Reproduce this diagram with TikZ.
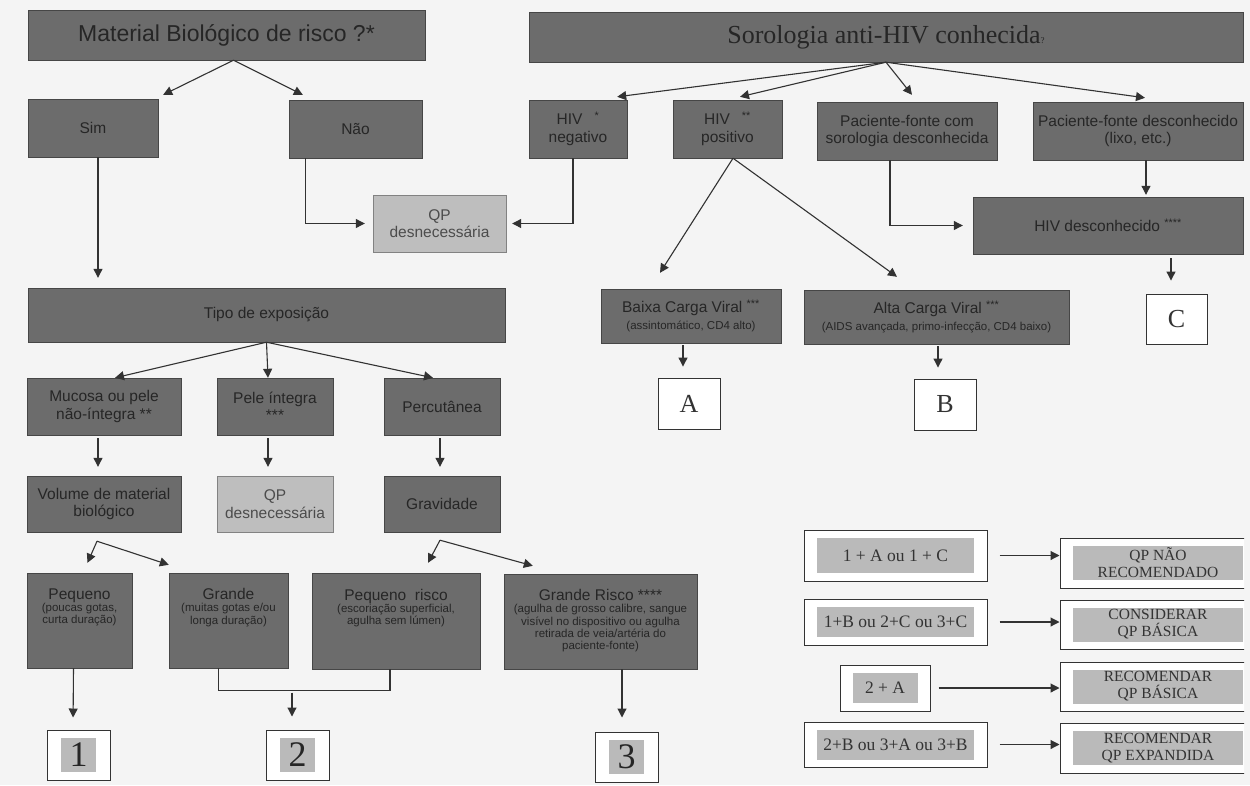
\documentclass[tikz,border=0pt]{standalone}
\usepackage{fontspec}
\setmainfont{Liberation Sans}
\newfontfamily\tnr{Liberation Serif}
\usetikzlibrary{arrows.meta,calc}
\definecolor{bgcol}{RGB}{244,244,244}
\definecolor{boxcol}{RGB}{108,108,108}
\definecolor{boxline}{RGB}{70,70,70}
\definecolor{boxtext}{RGB}{38,38,38}
\definecolor{lightcol}{RGB}{190,190,190}
\definecolor{lightline}{RGB}{130,130,130}
\definecolor{innercol}{RGB}{186,186,186}
\definecolor{linecol}{RGB}{50,50,50}
\def\fsz#1#2{\fontsize{#1}{#2}\selectfont}
\def\subtxt{\fsz{11.5}{12.2}}
\long\def\topbox#1#2{\parbox[c][80pt][t]{#1}{\centering\vspace*{8pt}#2}}
\long\def\greybox#1#2#3{{\setlength{\fboxsep}{0pt}\colorbox{innercol}{\parbox[c][#2][c]{#1}{\centering #3}}}}
\tikzset{
  darkbox/.style={draw=boxline, fill=boxcol, text=boxtext, inner sep=0pt, align=center, font=\fsz{15.5}{17.5}},
  lightbox/.style={darkbox, draw=lightline, fill=lightcol, text=black!70},
  letterbox/.style={draw=black!80, line width=0.9pt, fill=white, inner sep=0pt, text=black!80, font=\tnr\fsz{26}{28}},
  numbox/.style={draw=black!80, line width=1pt, fill=white, inner sep=0pt, text=black!85, font=\tnr\fsz{36}{40}},
  legleft/.style={draw=black!80, line width=1pt, fill=white, inner sep=0pt, text=black!80, font=\tnr\fsz{17.5}{20}},
  legright/.style={legleft, font=\tnr\fsz{15.5}{17}},
  arr/.style={draw=linecol, line width=1.1pt, -{Triangle[length=9pt,width=9pt]}},
  wire/.style={draw=linecol, line width=1.1pt}
}
\begin{document}
\begin{tikzpicture}[x=1pt,y=-1pt]
		%%%%% START %%%%%
		
		\fill[bgcol] (0,0) rectangle (1250,785);
		\useasboundingbox (0,0) rectangle (1250,785);
		\begin{scope}
		\clip (0,0) rectangle (1244,785);
		
		% left tree
		\node[darkbox, minimum width=397pt, minimum height=50pt, font=\fsz{23}{26}] (mat) at (226.5,35) {Material Biológico de risco ?*};
		\node[darkbox, minimum width=130pt, minimum height=58pt] (sim) at (93,128) {Sim};
		\node[darkbox, minimum width=133pt, minimum height=58pt] (nao) at (355.5,129) {Não};
		\node[lightbox, minimum width=133pt, minimum height=57pt] (qpa) at (439.5,223.5) {QP\\desnecessária};
		\node[darkbox, minimum width=477pt, minimum height=54pt] (tipo) at (266.5,315) {Tipo de exposição};
		\node[darkbox, minimum width=154pt, minimum height=57pt] (muc) at (104,406.5) {Mucosa ou pele\\não-íntegra **};
		\node[darkbox, minimum width=116pt, minimum height=57pt] (pele) at (275,406.5) {Pele íntegra\\***};
		\node[darkbox, minimum width=116pt, minimum height=57pt] (perc) at (442,406.5) {Percutânea};
		\node[darkbox, minimum width=154pt, minimum height=56pt] (vol) at (104,504) {Volume de material\\biológico};
		\node[lightbox, minimum width=116pt, minimum height=56pt] (qpb) at (275,504) {QP\\desnecessária};
		\node[darkbox, minimum width=116pt, minimum height=56pt] (grav) at (442,504) {Gravidade};
		
		\node[darkbox, minimum width=105pt, minimum height=95pt] (peq) at (79.5,620.5) {\topbox{100pt}{Pequeno\par\subtxt(poucas gotas,\\curta duração)}};
		\node[darkbox, minimum width=119pt, minimum height=95pt] (gra) at (228.5,620.5) {\topbox{114pt}{Grande\par\subtxt(muitas gotas e/ou\\longa duração)}};
		\node[darkbox, minimum width=168pt, minimum height=96pt] (peqr) at (396,621) {\topbox{162pt}{Pequeno\ \ risco\par\subtxt(escoriação superficial,\\agulha sem lúmen)}};
		\node[darkbox, minimum width=193pt, minimum height=95pt] (grar) at (600.5,621.5) {\topbox{190pt}{Grande Risco ****\par\subtxt(agulha de grosso calibre, sangue\\visível no dispositivo ou agulha\\retirada de veia/artéria do\\paciente-fonte)}};
		
		\node[numbox, minimum width=63pt, minimum height=50pt] (n1) at (78.5,755) {\greybox{35pt}{34pt}{1}};
		\node[numbox, minimum width=63pt, minimum height=50pt] (n2) at (297.5,755) {\greybox{35pt}{34pt}{2}};
		\node[numbox, minimum width=63pt, minimum height=50pt] (n3) at (626.5,757) {\greybox{35pt}{34pt}{3}};
		
		% right tree
		\node[darkbox, minimum width=714pt, minimum height=50pt, font=\tnr\fsz{26}{28}] (sor) at (886,37) {Sorologia anti-HIV conhecida{\fsz{9}{9}?}};
		\node[darkbox, minimum width=98pt, minimum height=58pt] (hneg) at (578,129) {HIV\hspace{12pt}\textsuperscript{*}\\negativo};
		\node[darkbox, minimum width=109pt, minimum height=58pt] (hpos) at (727.5,129) {HIV\hspace{12pt}\textsuperscript{**}\\positivo};
		\node[darkbox, minimum width=180pt, minimum height=58pt] (pcom) at (907,131) {Paciente-fonte com\\sorologia desconhecida};
		\node[darkbox, minimum width=210pt, minimum height=58pt] (pdes) at (1138,131) {Paciente-fonte desconhecido\\(lixo, etc.)};
		\node[darkbox, minimum width=270pt, minimum height=57pt] (hdes) at (1108,225.5) {HIV desconhecido \textsuperscript{****}};
		\node[darkbox, minimum width=180pt, minimum height=54pt] (baixa) at (691,316) {Baixa Carga Viral \textsuperscript{***}\\{\subtxt(assintomático, CD4 alto)}};
		\node[darkbox, minimum width=265pt, minimum height=54pt] (alta) at (936.5,317) {Alta Carga Viral \textsuperscript{***}\\{\subtxt(AIDS avançada, primo-infecção, CD4 baixo)}};
		\node[letterbox, minimum width=62pt, minimum height=51pt] (la) at (689,403.5) {A};
		\node[letterbox, minimum width=62pt, minimum height=51pt] (lb) at (945,404.5) {B};
		\node[letterbox, minimum width=61pt, minimum height=50pt] (lc) at (1176.5,319) {C};
		
		% legend
		\node[legleft, minimum width=183pt, minimum height=51pt] (l1) at (895.5,555.5) {\greybox{157pt}{35pt}{1 + A ou 1 + C}};
		\node[legleft, minimum width=183pt, minimum height=46pt] (l2) at (895.5,622) {\greybox{157pt}{30pt}{1+B ou 2+C ou 3+C}};
		\node[legleft, minimum width=90pt, minimum height=46pt] (l3) at (885,688) {\greybox{65pt}{30pt}{2 + A}};
		\node[legleft, minimum width=183pt, minimum height=45pt] (l4) at (895.5,744.5) {\greybox{157pt}{30pt}{2+B ou 3+A ou 3+B}};
		\node[legright, minimum width=196pt, minimum height=50pt] (r1) at (1158,563) {\greybox{170pt}{34pt}{QP NÃO\\RECOMENDADO}};
		\node[legright, minimum width=196pt, minimum height=49pt] (r2) at (1158,624.5) {\greybox{170pt}{34pt}{CONSIDERAR\\QP BÁSICA}};
		\node[legright, minimum width=196pt, minimum height=49pt] (r3) at (1158,686.5) {\greybox{170pt}{34pt}{RECOMENDAR\\QP BÁSICA}};
		\node[legright, minimum width=196pt, minimum height=50pt] (r4) at (1158,748) {\greybox{170pt}{34pt}{RECOMENDAR\\QP EXPANDIDA}};
		\end{scope}
		
		% connectors, left
		\draw[arr] ($(mat.south)+(7,0)$) -- ($(sim.north east)+(5,-4)$);
		\draw[arr] ($(mat.south)+(7,0)$) -- ($(nao.north west)+(14,-5)$);
		\draw[arr, shorten >=10pt] ($(sim.south)+(5,0)$) -- ($(sim.south |- tipo.north)+(5,0)$);
		\draw[arr, shorten >=8pt] ($(nao.south)+(-50,0)$) |- (qpa.west);
		\draw[arr, shorten >=6pt] ($(hneg.south)+(-5,0)$) |- (qpa.east);
		\draw[arr] (tipo.south) -- ($(muc.north)+(11,0)$);
		\draw[arr] (tipo.south) -- ($(pele.north)+(-7,0)$);
		\draw[arr] (tipo.south) -- ($(perc.north)+(-9,0)$);
		\draw[arr, shorten <=3pt, shorten >=9pt] ($(muc.south)+(-6,0)$) -- ($(vol.north)+(-6,0)$);
		\draw[arr, shorten <=3pt, shorten >=9pt] ($(pele.south)+(-7,0)$) -- ($(qpb.north)+(-7,0)$);
		\draw[arr, shorten <=3pt, shorten >=9pt] ($(perc.south)+(-2,0)$) -- ($(grav.north)+(-2,0)$);
		\coordinate (vk) at ($(vol.south)+(-7,9)$);
		\draw[arr] (vk) -- ($(peq.north)+(8,-10)$);
		\draw[arr] (vk) -- ($(gra.north west)+(0,-8)$);
		\coordinate (gk) at ($(grav.south)+(-2,8)$);
		\draw[arr] (gk) -- ($(peqr.north)+(32,-10)$);
		\draw[arr] (gk) -- ($(grar.north west)+(29,-8)$);
		\draw[arr, shorten >=12pt] ($(peq.south)+(-6,0)$) -- ($(n1.north)+(-5.5,0)$);
		\draw[wire] ($(gra.south)+(-10,0)$) -- ++(0,22) -| ($(peqr.south)+(-6,0)$);
		\draw[arr, shorten >=13pt] ($(n2.north)+(-5.5,-37)$) -- ($(n2.north)+(-5.5,0)$);
		\draw[arr, shorten >=14pt] ($(n3.north |- grar.south)+(-4.5,0)$) -- ($(n3.north)+(-4.5,0)$);
		
		% connectors, right
		\draw[arr] (sor.south) -- ($(hneg.north east)+(-10,-3)$);
		\draw[arr] (sor.south) -- ($(hpos.north)+(12.5,-3)$);
		\draw[arr] (sor.south) -- ($(pcom.north)+(5,-7)$);
		\draw[arr] (sor.south) -- ($(pdes.north)+(7,-4)$);
		\draw[arr] ($(hpos.south)+(5.5,0)$) -- ($(baixa.north)+(-31,-16)$);
		\draw[arr] ($(hpos.south)+(5.5,0)$) -- ($(alta.north)+(-39.5,-13)$);
		\draw[arr, shorten >=10pt] ($(pcom.south)+(-17,0)$) |- (hdes.west);
		\draw[arr, shorten >=2pt] ($(pdes.south)+(8,0)$) -- ($(pdes.south |- hdes.north)+(8,0)$);
		\draw[arr, shorten <=4pt, shorten >=13pt] ($(lc.north |- hdes.south)+(-5.5,0)$) -- ($(lc.north)+(-5.5,0)$);
		\draw[arr, shorten <=2pt, shorten >=11pt] ($(la.north |- baixa.south)+(-6,0)$) -- ($(la.north)+(-6,0)$);
		\draw[arr, shorten <=2pt, shorten >=11pt] ($(lb.north |- alta.south)+(-7,0)$) -- ($(lb.north)+(-7,0)$);
		
		% legend arrows
		\foreach \r in {1,2,4} \draw[arr] ($(l\r.east)+(12,0)$) -- (r\r.west |- l\r.east);
		\draw[arr] ($(l3.east)+(8,0)$) -- (r3.west |- l3.east);
		
		%%%%% END %%%%%
\end{tikzpicture}
\end{document}
